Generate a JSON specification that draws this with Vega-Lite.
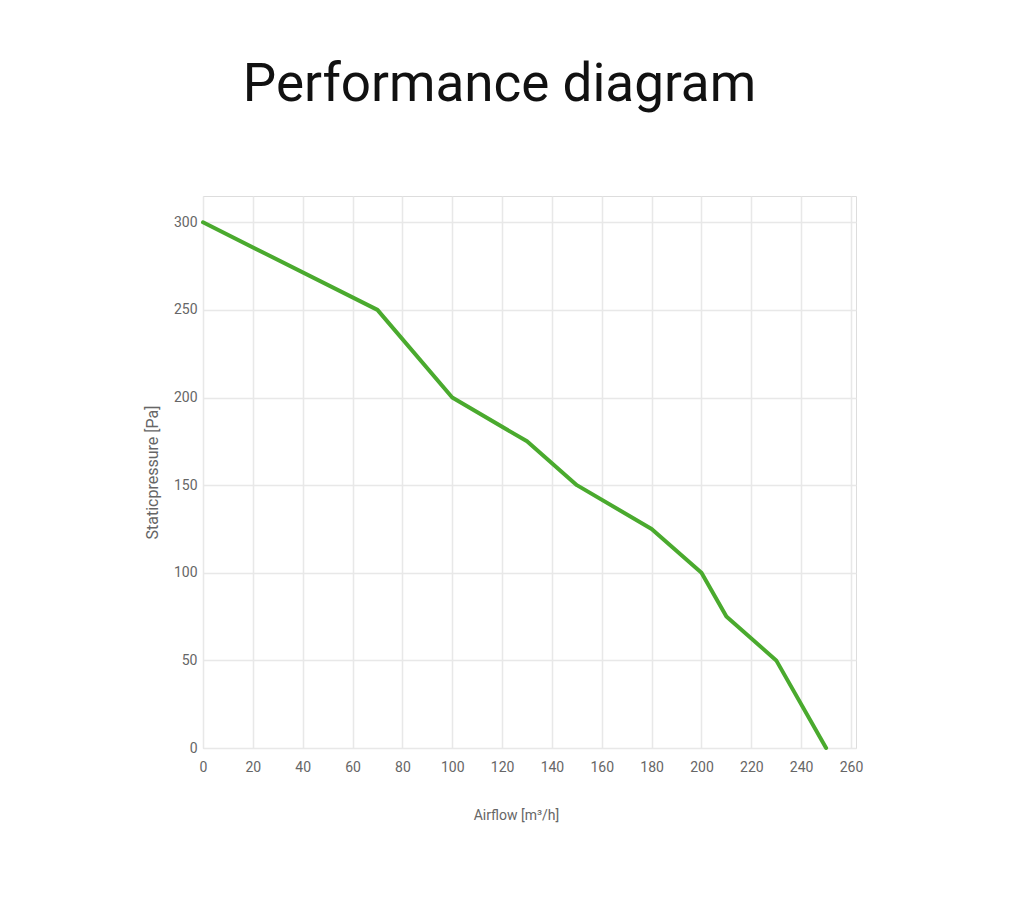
{
  "$schema": "https://vega.github.io/schema/vega-lite/v6.json",
  "width": 653,
  "height": 552,
  "autosize": {"type": "none"},
  "padding": {"left": 203, "top": 196, "right": 168, "bottom": 156},
  "background": "white",
  "title": {
    "text": "Performance diagram",
    "font": "Roboto",
    "fontSize": 53,
    "fontWeight": "normal",
    "color": "#111111",
    "anchor": "middle",
    "dx": -30,
    "baseline": "alphabetic",
    "offset": 42
  },
  "data": {
    "values": [
      {"airflow": 0, "pressure": 300},
      {"airflow": 70, "pressure": 250},
      {"airflow": 100, "pressure": 200},
      {"airflow": 130, "pressure": 175},
      {"airflow": 150, "pressure": 150},
      {"airflow": 180, "pressure": 125},
      {"airflow": 200, "pressure": 100},
      {"airflow": 210, "pressure": 75},
      {"airflow": 230, "pressure": 50},
      {"airflow": 250, "pressure": 0}
    ]
  },
  "mark": {"type": "line", "color": "#4aaa2e", "strokeWidth": 4, "strokeJoin": "round", "strokeCap": "round"},
  "encoding": {
    "x": {
      "field": "airflow",
      "type": "quantitative",
      "title": "Airflow [m³/h]",
      "scale": {"domain": [0, 262], "nice": false, "zero": false},
      "axis": {"values": [0,20,40,60,80,100,120,140,160,180,200,220,240,260], "ticks": false, "domain": false, "labelFlush": false, "labelPadding": 12, "titlePadding": 34, "titleX": 313, "titleFontSize": 14}
    },
    "y": {
      "field": "pressure",
      "type": "quantitative",
      "title": "Staticpressure [Pa]",
      "scale": {"domain": [0, 315], "nice": false},
      "axis": {"values": [0,50,100,150,200,250,300], "ticks": false, "domain": false, "labelFlush": false, "labelPadding": 6, "titlePadding": 13, "titleFontSize": 16}
    }
  },
  "config": {
    "view": {"stroke": "#dddddd", "strokeWidth": 1},
    "axis": {
      "gridColor": "#e8e8e8",
      "gridWidth": 1.5,
      "labelFont": "Roboto",
      "labelFontSize": 14,
      "labelColor": "#666666",
      "titleFont": "Roboto",
      "titleFontWeight": "normal",
      "titleColor": "#666666",
      "labelOverlap": false
    }
  }
}
